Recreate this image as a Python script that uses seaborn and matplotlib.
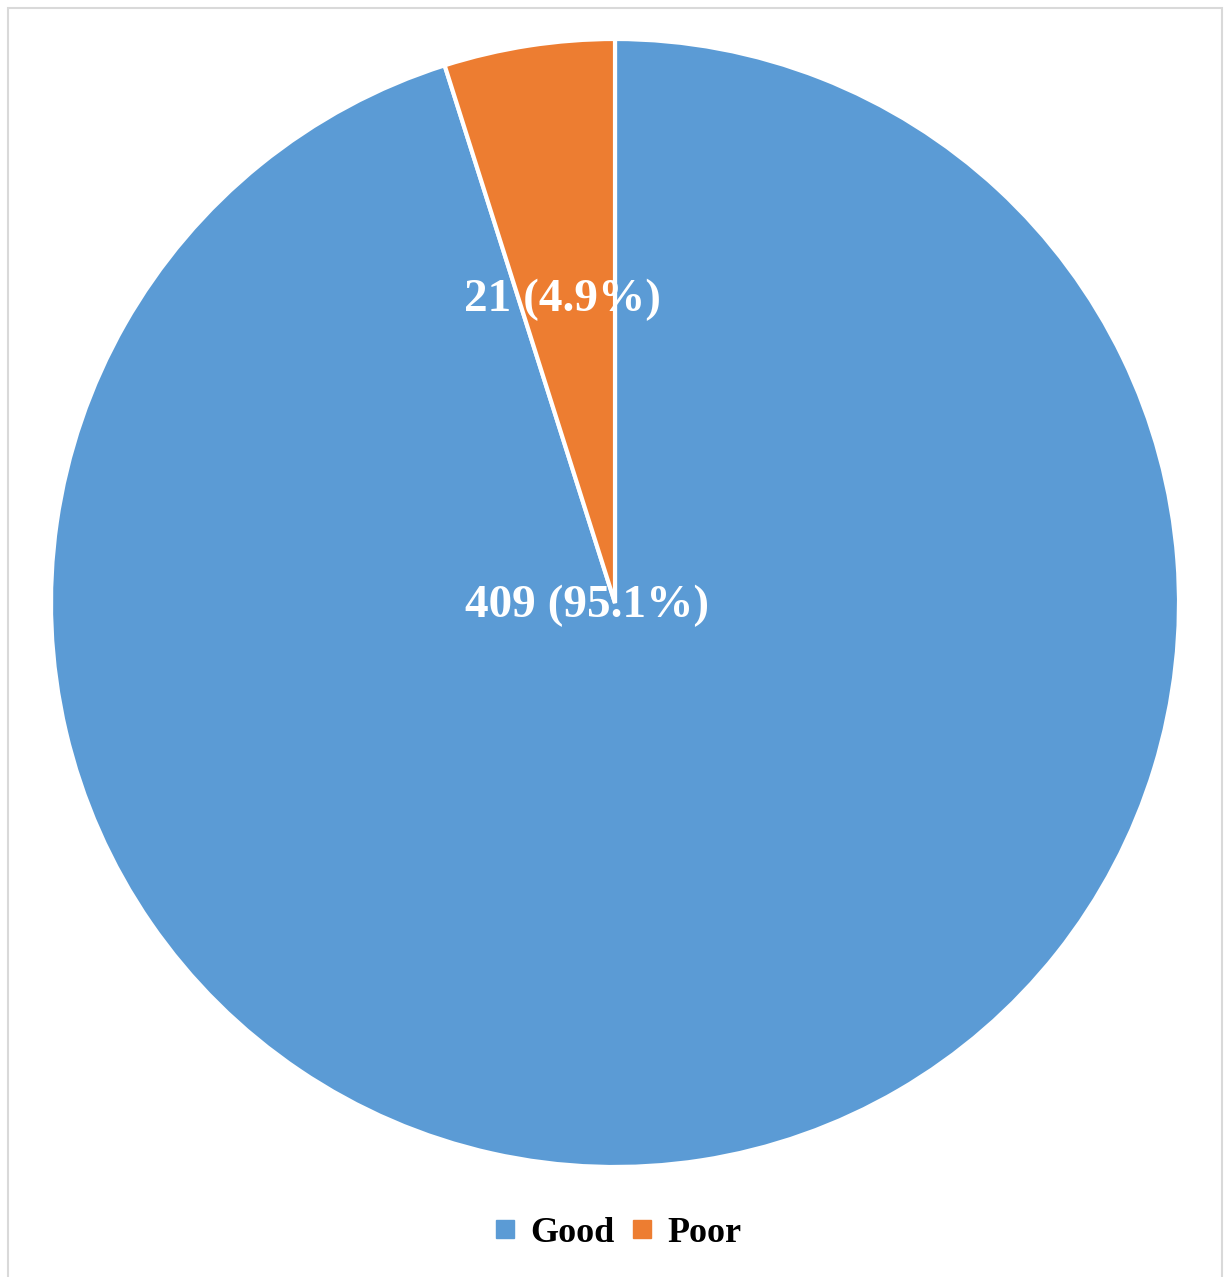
import matplotlib
matplotlib.use("Agg")
import matplotlib.pyplot as plt
import matplotlib.patches as mpatches
from matplotlib.lines import Line2D
import seaborn as sns

# Survey outcome counts
categories = ["Good", "Poor"]
counts = [409, 21]
percents = [95.1, 4.9]
colors = ["#5B9BD5", "#ED7D31"]

sns.set_theme(style="white")
plt.rcParams["font.family"] = ["Liberation Serif", "DejaVu Serif"]

W, H = 1227, 1277
fig = plt.figure(figsize=(W / 100, H / 100), dpi=100)
fig.patch.set_facecolor("white")

# Light grey chart frame
fig.add_artist(mpatches.Rectangle((8 / W, -0.01), (1222 - 8) / W, (H - 8) / H + 0.01,
                                  transform=fig.transFigure, fill=False,
                                  edgecolor="#D9D9D9", linewidth=1.5))

cx, cy, r = 615, 603, 564
ax = fig.add_axes([(cx - r) / W, (H - cy - r) / H, 2 * r / W, 2 * r / H])
wedges, _ = ax.pie(counts, colors=colors, startangle=90, counterclock=False,
                   radius=1.0, wedgeprops=dict(edgecolor="white", linewidth=3))
ax.set_xlim(-1, 1)
ax.set_ylim(-1, 1)
ax.set_aspect("equal")
ax.axis("off")

label_pos = [(-0.05, -0.006), (-0.093, 0.537)]
for n, p, (x, y) in zip(counts, percents, label_pos):
    ax.text(x, y, f"{n} ({p}%)", ha="center", va="center", color="white",
            fontsize=34, fontweight="bold")

handles = [Line2D([], [], marker="s", linestyle="none", markersize=13,
                  markerfacecolor=c, markeredgecolor=c) for c in colors]
leg = fig.legend(handles, categories, loc="center", bbox_to_anchor=(614 / W, 1 - 1233 / H),
                 ncol=2, frameon=False, prop=dict(size=26, weight="bold"),
                 handletextpad=0.2, columnspacing=0.25, handlelength=1.0)
for t in leg.get_texts():
    t.set_color("black")

fig.savefig("out.png", dpi=100)
